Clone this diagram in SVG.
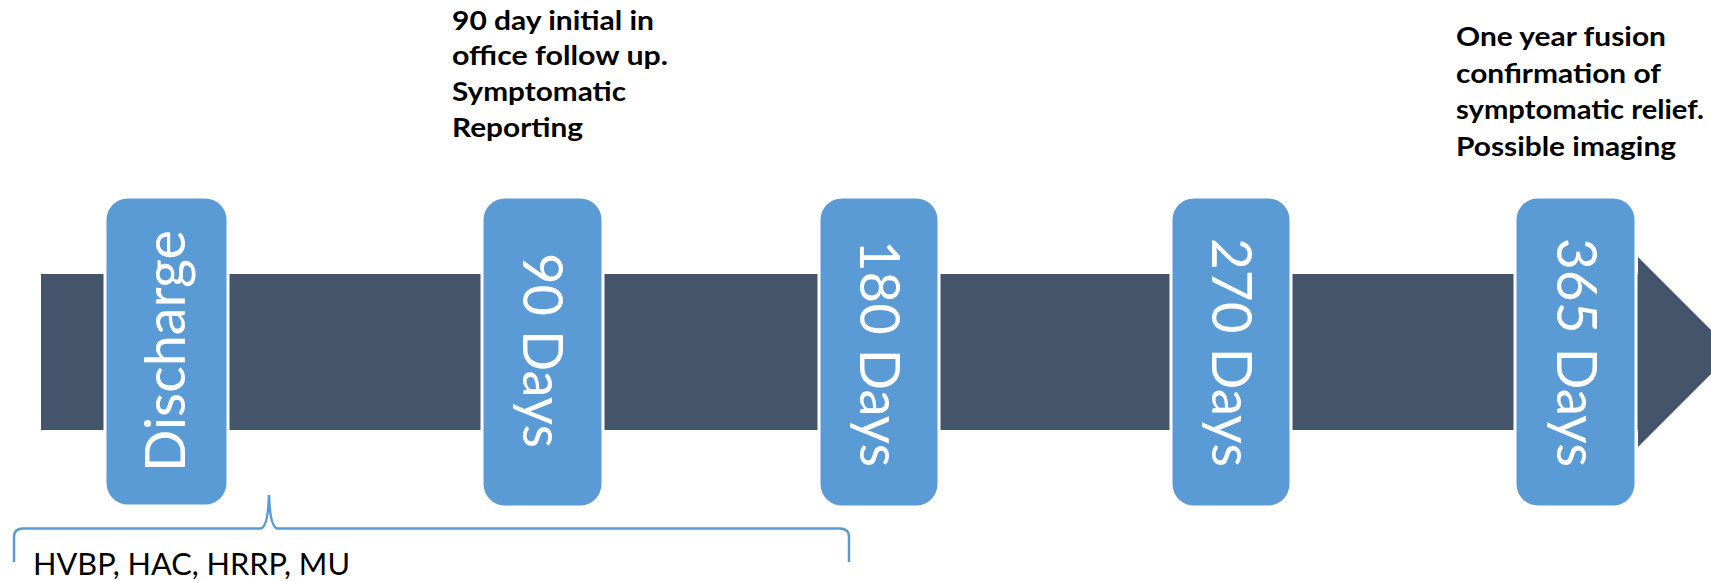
<svg xmlns="http://www.w3.org/2000/svg" width="1711" height="581" viewBox="0 0 1711 581">
<style>
.bar{fill:#44546A;}
.box{fill:#5B9BD5;stroke:#FFFFFF;stroke-width:3;}
.lbl{fill:#FFFFFF;font-family:Lato,"Open Sans",sans-serif;font-size:56px;text-anchor:middle;}
.note{fill:#000000;font-family:Lato,"Open Sans",sans-serif;font-weight:bold;font-size:27.5px;}
.brace{fill:none;stroke:#5B9BD5;stroke-width:2.5;}
.sub{fill:#000000;font-family:Lato,"Open Sans",sans-serif;font-size:31px;}
</style>
<g id="timeline-arrow">
<rect class="bar" x="41" y="274" width="1597" height="156"/>
<polygon class="bar" points="1638,257 1733,352 1638,447"/>
</g>
<g id="node-discharge">
<rect class="box" x="105" y="197" width="123" height="309" rx="23" ry="23"/>
<text class="lbl" font-size="54" transform="translate(185,351) rotate(-90)" textLength="242" lengthAdjust="spacingAndGlyphs">Discharge</text>
</g>
<g id="node-90">
<rect class="box" x="482" y="197" width="121" height="310" rx="23" ry="23"/>
<text class="lbl" transform="translate(523,350.5) rotate(90)" textLength="195" lengthAdjust="spacingAndGlyphs">90 Days</text>
</g>
<g id="node-180">
<rect class="box" x="819" y="197" width="120" height="310" rx="23" ry="23"/>
<text class="lbl" transform="translate(860,353.5) rotate(90)" textLength="227" lengthAdjust="spacingAndGlyphs">180 Days</text>
</g>
<g id="node-270">
<rect class="box" x="1171" y="197" width="120" height="310" rx="23" ry="23"/>
<text class="lbl" transform="translate(1212,352.5) rotate(90)" textLength="229" lengthAdjust="spacingAndGlyphs">270 Days</text>
</g>
<g id="node-365">
<rect class="box" x="1515" y="197" width="121" height="310" rx="23" ry="23"/>
<text class="lbl" transform="translate(1557,352.5) rotate(90)" textLength="229" lengthAdjust="spacingAndGlyphs">365 Days</text>
</g>
<g id="note-90">
<text class="note" x="452" y="30" textLength="202" lengthAdjust="spacingAndGlyphs">90 day initial in</text>
<text class="note" x="452" y="65" textLength="216" lengthAdjust="spacingAndGlyphs">office follow up.</text>
<text class="note" x="452" y="101" textLength="174" lengthAdjust="spacingAndGlyphs">Symptomatic</text>
<text class="note" x="452" y="137" textLength="131" lengthAdjust="spacingAndGlyphs">Reporting</text>
</g>
<g id="note-365">
<text class="note" x="1456" y="46" textLength="210" lengthAdjust="spacingAndGlyphs">One year fusion</text>
<text class="note" x="1456" y="82.5" textLength="205" lengthAdjust="spacingAndGlyphs">confirmation of</text>
<text class="note" x="1456" y="119" textLength="248" lengthAdjust="spacingAndGlyphs">symptomatic relief.</text>
<text class="note" x="1456" y="155.5" textLength="220" lengthAdjust="spacingAndGlyphs">Possible imaging</text>
</g>
<g id="connectors">
<path class="brace" d="M14,562 L14,537 Q14,528.5 23,528.5 L260,528.5 Q268,528.5 269,495 Q270,528.5 278,528.5 L840,528.5 Q849,528.5 849,537 L849,562"/>
</g>
<g id="bracket-label">
<text class="sub" x="33" y="575" textLength="317" lengthAdjust="spacingAndGlyphs">HVBP, HAC, HRRP, MU</text>
</g>
</svg>
